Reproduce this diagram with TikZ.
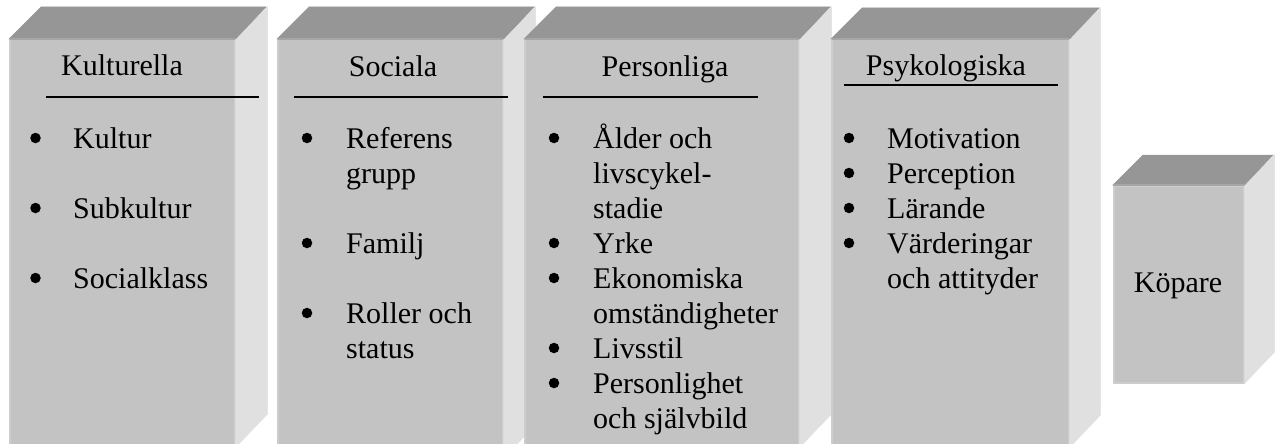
\documentclass[tikz,border=0pt]{standalone}
\usepackage{fontspec}
\setmainfont{Liberation Serif}
\definecolor{frontgray}{HTML}{C3C3C3}
\definecolor{topgray}{HTML}{969696}
\definecolor{sidegray}{HTML}{E0E0E0}
\definecolor{edgegray}{HTML}{CDCDCD}
\definecolor{topedge}{HTML}{A6A6A6}
% a cube: front face as a named node, then its side and top faces
\newcommand\cubebox[6]{%
  \node[frontface, minimum width=#4pt, minimum height=#5pt] (#1) at (#2,#3) {};
  \filldraw[sideface] (#1.north east) -- ++(#6,-#6) -- ++(0,#5) -- (#1.south east) -- cycle;
  \filldraw[topface] (#1.north west) -- ++(#6,-#6) -- ++(#4,0) -- (#1.north east) -- cycle;
  \draw[topedge, line width=2pt] ([xshift=1pt]#1.north west) -- ([xshift=-1pt]#1.north east);
}
\begin{document}
\begin{tikzpicture}[x=1pt,y=-1pt,
  frontface/.style={draw=edgegray, line width=1.5pt, fill=frontgray, rectangle, inner sep=0pt, anchor=north west},
  topface/.style={fill=topgray, draw=topgray, line width=0.5pt},
  sideface/.style={fill=sidegray, draw=sidegray, line width=0.5pt},
  every node/.append style={font=\fontsize{30pt}{35pt}\selectfont},
  head/.style={anchor=base, inner sep=0pt},
  item/.style={anchor=base west, inner sep=0pt},
  rule/.style={line width=1.6pt, black},
  dot/.style={circle, fill=black, inner sep=0pt, minimum size=10.5pt}
]
\useasboundingbox (0,0) rectangle (1280,444);

% --- Kulturella ---
\cubebox{kult}{9}{39}{225}{407}{32}
\node[head] (kulth) at (122,76) {Kulturella};
\coordinate (kultl) at (46,97); \coordinate (kultr) at (259,97);
\draw[rule] (kultl) -- (kultr);
\foreach \t/\y [count=\k] in {Kultur/148, Subkultur/218, Socialklass/288} {
  \node[dot] (kultd\k) at (35.5,\y-10) {};
  \node[item] (kulti\k) at (73,\y) {\t};
}

% --- Sociala ---
\cubebox{soc}{277}{39}{225}{418}{32}
\node[head] (soch) at (393,77) {Sociala};
\coordinate (socl) at (294,97); \coordinate (socr) at (508,97);
\draw[rule] (socl) -- (socr);
\foreach \y [count=\k] in {148,253,323} \node[dot] (socd\k) at (307,\y-10) {};
\foreach \t/\y [count=\k] in {Referens/148, grupp/183, Familj/253, {Roller och}/323, status/358}
  \node[item] (soci\k) at (346,\y) {\t};

% --- Personliga ---
\cubebox{pers}{524}{39}{274}{407}{32}
\node[head] (persh) at (665,77) {Personliga};
\coordinate (persl) at (543,97); \coordinate (persr) at (758,97);
\draw[rule] (persl) -- (persr);
\foreach \y [count=\k] in {148,253,288,358,393} \node[dot] (persd\k) at (554,\y-10) {};
\foreach \t/\y [count=\k] in {{Ålder och}/148, livscykel-/183, stadie/218, Yrke/253,
    Ekonomiska/288, omständigheter/323, Livsstil/358, Personlighet/393, {och självbild}/428}
  \node[item] (persi\k) at (593,\y) {\t};

% --- Psykologiska ---
\cubebox{psyk}{831}{39}{237}{407}{31}
\node[head] (psykh) at (946,76) {Psykologiska};
\coordinate (psykl) at (844,85); \coordinate (psykr) at (1058,85);
\draw[rule] (psykl) -- (psykr);
\foreach \y [count=\k] in {148,183,218,253} \node[dot] (psykd\k) at (849,\y-10) {};
\foreach \t/\y [count=\k] in {Motivation/148, Perception/183, Lärande/218, Värderingar/253, {och attityder}/288}
  \node[item] (psyki\k) at (887,\y) {\t};

% --- Köpare ---
\cubebox{kop}{1113}{185}{130}{197}{30}
\node[head] (koph) at (1178,292) {Köpare};
\end{tikzpicture}
\end{document}
